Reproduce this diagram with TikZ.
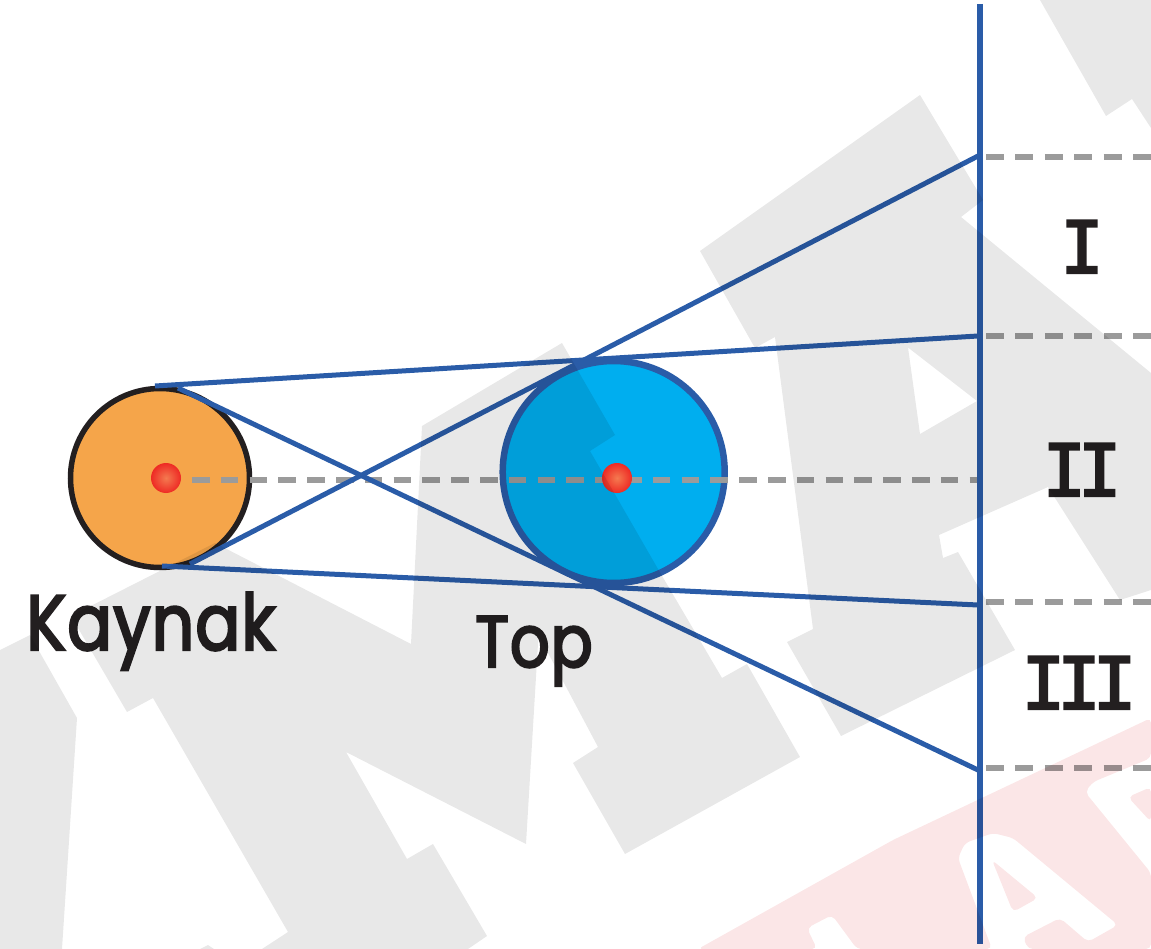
\documentclass[tikz,border=0pt]{standalone}
\usepackage{fontspec}
\setmainfont{Poppins}
\newfontfamily\lblf[FakeBold=3,FakeStretch=.85,LetterSpace=1.5]{Poppins}
\newfontfamily\romf[LetterSpace=-10.8,FakeBold=3]{DejaVu Sans Mono}
\definecolor{rayblue}{HTML}{2A5CA8}
\definecolor{dashgray}{HTML}{9B9B9B}
\definecolor{wmgray}{HTML}{E8E8E8}
\definecolor{wmpink}{HTML}{FBE6E7}
\definecolor{srcfill}{HTML}{F5A54A}
\definecolor{ballfill}{HTML}{00AEEF}
\definecolor{inkblack}{HTML}{231F20}
\definecolor{dotin}{HTML}{F47A50}
\definecolor{dotout}{HTML}{EE2A24}
\tikzset{
  ray/.style={draw=rayblue,line width=5pt},
  guide/.style={draw=dashgray,line width=5.5pt,dash pattern=on 17.6pt off 11.2pt},
  guideb/.style={draw=dashgray,line width=5.5pt,dash pattern=on 18pt off 11.4pt},
  srcdisc/.style={circle,draw=inkblack,line width=5.5pt,fill=srcfill,inner sep=0pt,minimum size=179pt},
  balldisc/.style={circle,draw=rayblue,line width=6.5pt,fill=ballfill,inner sep=0pt,minimum size=222pt},
  reddot/.style={circle,inner sep=0pt,minimum size=30pt,inner color=dotin,outer color=dotout},
  lbl/.style={text=inkblack,inner sep=0pt,font=\lblf\fontsize{78}{78}\selectfont},
  lbltop/.style={text=inkblack,inner sep=0pt,font=\lblf\fontsize{73}{73}\selectfont},
  rom/.style={text=inkblack,inner sep=0pt,font=\romf\fontsize{72}{72}\selectfont},
  wm/.style={fill=wmgray},
  wp/.style={fill=wmpink}
}
\begin{document}
\begin{tikzpicture}[x=1pt,y=-1pt]
\useasboundingbox (0,0) rectangle (1151,949);
% main drawing
\node[srcdisc] (src) at (160,478) {};
\node[balldisc] (ball) at (613.7,472) {};
\coordinate (srcT) at (155,386);
\coordinate (srcB) at (162,566);
\coordinate (srcR) at (178,388);
\coordinate (srcS) at (190,564);
\coordinate (sc1) at (978,156);
\coordinate (sc2) at (978,336);
\coordinate (sc3) at (978,605);
\coordinate (sc4) at (978,770);
\coordinate (scrTop) at (980,4);
\coordinate (scrBot) at (980,944);
\coordinate (axA) at (192,480);
\coordinate (axB) at (977,480);
\foreach \n/\y in {d1/157,d2/336,d3/602,d4/768}{
  \coordinate (\n a) at (986,\y);
  \coordinate (\n b) at (1151,\y);
  \draw[guideb] (\n a) -- (\n b);
}
\draw[guide] (axA) -- (axB);
\draw[ray] (srcT) -- (sc2);
\draw[ray] (srcB) -- (sc3);
\draw[ray] (srcS) -- (sc1);
\draw[ray] (srcR) -- (sc4);
\draw[rayblue,line width=5.5pt] (scrTop) -- (scrBot);
\node[reddot] (dotS) at (166,478) {};
\node[reddot] (dotB) at (617,478) {};
\node[lbl,anchor=base] (kay) at (151,650) {Kaynak};
\node[lbltop,anchor=base] (topl) at (534,667) {Top};
\node[rom,anchor=base] (r1) at (1082,273) {I};
\node[rom,anchor=base] (r2) at (1082,496) {II};
\node[rom,anchor=base] (r3) at (1079,709) {III};
% watermark, laid over everything
\begin{scope}[blend mode=multiply]
\path[wm] (0,650) -- (30,635) -- (77,718) -- (62,949) -- (0,949) -- cycle;
\path[wm] (200,949) -- (208,945) -- (214,949) -- cycle;
\path[wm] (71,616) -- (215,543) -- (411,644) -- (422,426) -- (562,343) -- (615,435) -- (590,451) -- (658,569) -- (722,678) -- (747,664) -- (800,757) -- (625,854) -- (573,763) -- (598,747) -- (538.5,635) -- (526,844) -- (346,752) -- (407,859) -- (433,844) -- (487,936) -- (468,949) -- (262,949) -- (288,932) -- (153,698) -- (127,712) -- cycle;
\path[wm,even odd rule] (700,251) -- (920,95) -- (983,200) -- (961,217) -- (1151,373) -- (1151,590) -- (1120,600) -- (1048,487) -- (939,535) -- (943,558) -- (958,552) -- (1015,650) -- (841,736) -- (787,642) -- (813,629) -- (775,337) -- (755,348) -- cycle
  (908,347.5) -- (977,401) -- (920,434) -- cycle;
\path[wm] (1040,0) -- (1106,116) -- (1132,99) -- (1151,128) -- (1151,0) -- cycle;
\path[wp,even odd rule,rounded corners=5pt] (698,949) -- (893,840) -- (1151,718) -- (1151,758) -- (1093,782) -- (1085,792) -- (1151,873) -- (1151,949) -- (1028,949) -- (1023,937) -- (1060,918) -- (1088,942) -- (1118,925) -- (1013,838) -- (993,833) -- (965,843) -- (958,858) -- (992,949) -- (857,949) -- (832,915) -- (807,928) -- (817,949) -- cycle
  (992,860) -- (1038,898) -- (1013,912) -- cycle
  (1128,797) -- (1151,787) -- (1151,822) -- cycle;
\end{scope}
\end{tikzpicture}
\end{document}
